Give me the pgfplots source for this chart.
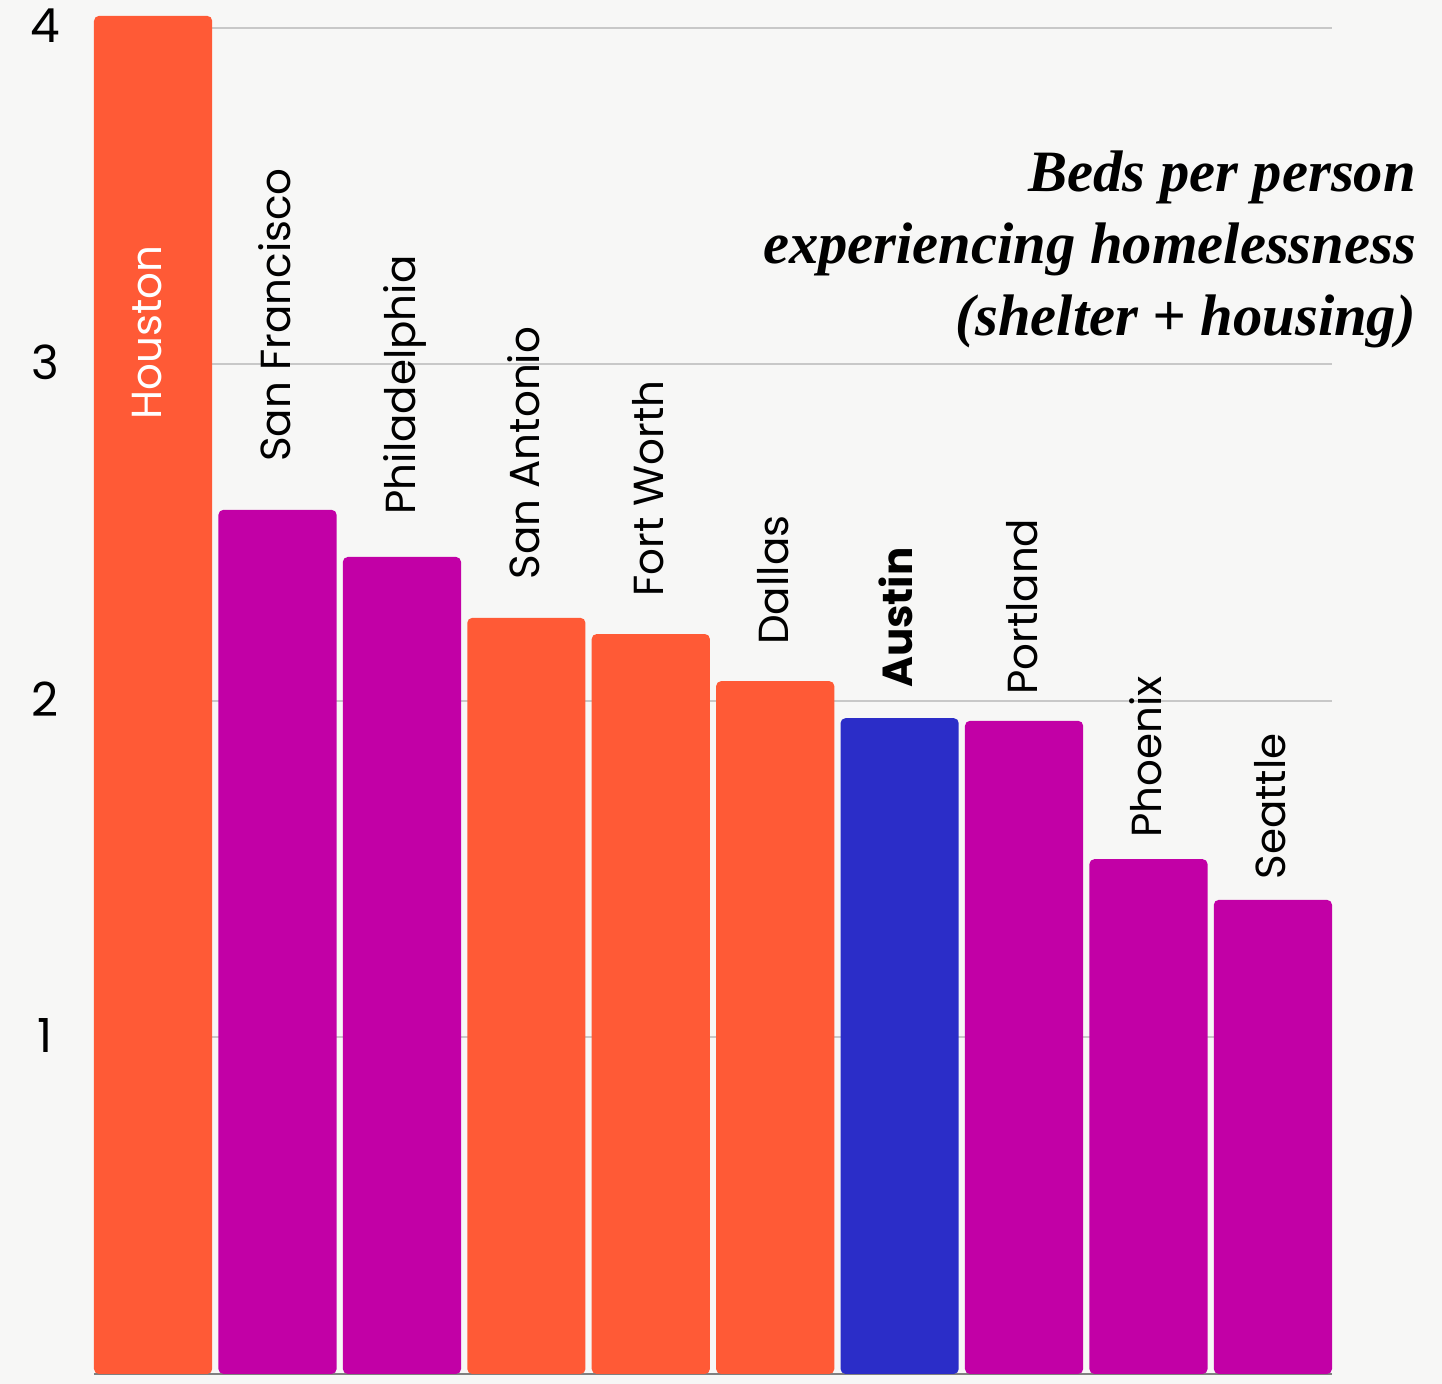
\documentclass[border=0pt]{standalone}
\usepackage{pgfplots}
\pgfplotsset{compat=1.18}
\usepackage{fontspec}
\setmainfont{Poppins}
\newfontfamily\titlefont{Liberation Serif}
\usetikzlibrary{backgrounds}

\definecolor{orng}{HTML}{FF5A36}
\definecolor{mag}{HTML}{C200A6}
\definecolor{blu}{HTML}{2B2DC8}
\definecolor{bgc}{HTML}{F7F7F6}
\definecolor{gridc}{HTML}{C8C8C8}

\begin{document}
\begin{tikzpicture}
\begin{axis}[
  scale only axis, width=619pt, height=673pt,
  xmin=-0.475, xmax=9.475, ymin=0, ymax=4,
  clip=false,
  axis lines=left,
  y axis line style={draw=none},
  x axis line style={draw=gray, line width=1pt, -},
  xtick=\empty,
  ytick={1,2,3,4},
  major tick length=0pt,
  ymajorgrids,
  grid style={gridc, line width=1pt},
  /pgf/number format/assume math mode=true,
  yticklabel style={font=\fontsize{23.5}{23.5}\selectfont, anchor=center, xshift=-24.5pt, yshift=1pt},
]
\coordinate (PBL) at ([shift={(-47pt,-5pt)}]rel axis cs:0,0);
\coordinate (PTR) at ([shift={(55pt,14pt)}]rel axis cs:1,1);

\addplot[ybar, bar width=0.95, bar shift=0pt, fill=orng, draw=none, rounded corners=2.5pt]
  coordinates {(0,4.036) (3,2.247) (4,2.199) (5,2.059)};
\addplot[ybar, bar width=0.95, bar shift=0pt, fill=mag, draw=none, rounded corners=2.5pt]
  coordinates {(1,2.568) (2,2.428) (7,1.941) (8,1.530) (9,1.409)};
\addplot[ybar, bar width=0.95, bar shift=0pt, fill=blu, draw=none, rounded corners=2.5pt]
  coordinates {(6,1.949)};

\tikzset{city/.style={rotate=90, anchor=base west, inner sep=0pt, font=\fontsize{21}{21}\selectfont}}
\node[city, text=white] at (axis cs:0.064,2.835) {Houston};
\node[city] at (axis cs:1.105,2.710) {San Francisco};
\node[city] at (axis cs:2.105,2.553) {Philadelphia};
\node[city] at (axis cs:3.105,2.360) {San Antonio};
\node[city] at (axis cs:4.105,2.309) {Fort Worth};
\node[city] at (axis cs:5.105,2.166) {Dallas};
\node[city, font=\fontsize{21}{21}\selectfont\bfseries] at (axis cs:6.105,2.038) {Austin};
\node[city] at (axis cs:7.105,2.017) {Portland};
\node[city] at (axis cs:8.105,1.593) {Phoenix};
\node[city] at (axis cs:9.105,1.468) {Seattle};

\tikzset{ttl/.style={anchor=base east, inner sep=0pt, font=\titlefont\bfseries\itshape\fontsize{29.3}{29.3}\selectfont}}
\node[ttl] at (axis cs:10.152,3.515) {Beds per person};
\node[ttl] at (axis cs:10.152,3.301) {experiencing homelessness};
\node[ttl] at (axis cs:10.152,3.087) {(shelter + housing)};
\end{axis}
\begin{scope}[on background layer]
\fill[bgc] (PBL) rectangle (PTR);
\end{scope}
\pgfresetboundingbox
\useasboundingbox (PBL) rectangle (PTR);
\end{tikzpicture}
\end{document}
